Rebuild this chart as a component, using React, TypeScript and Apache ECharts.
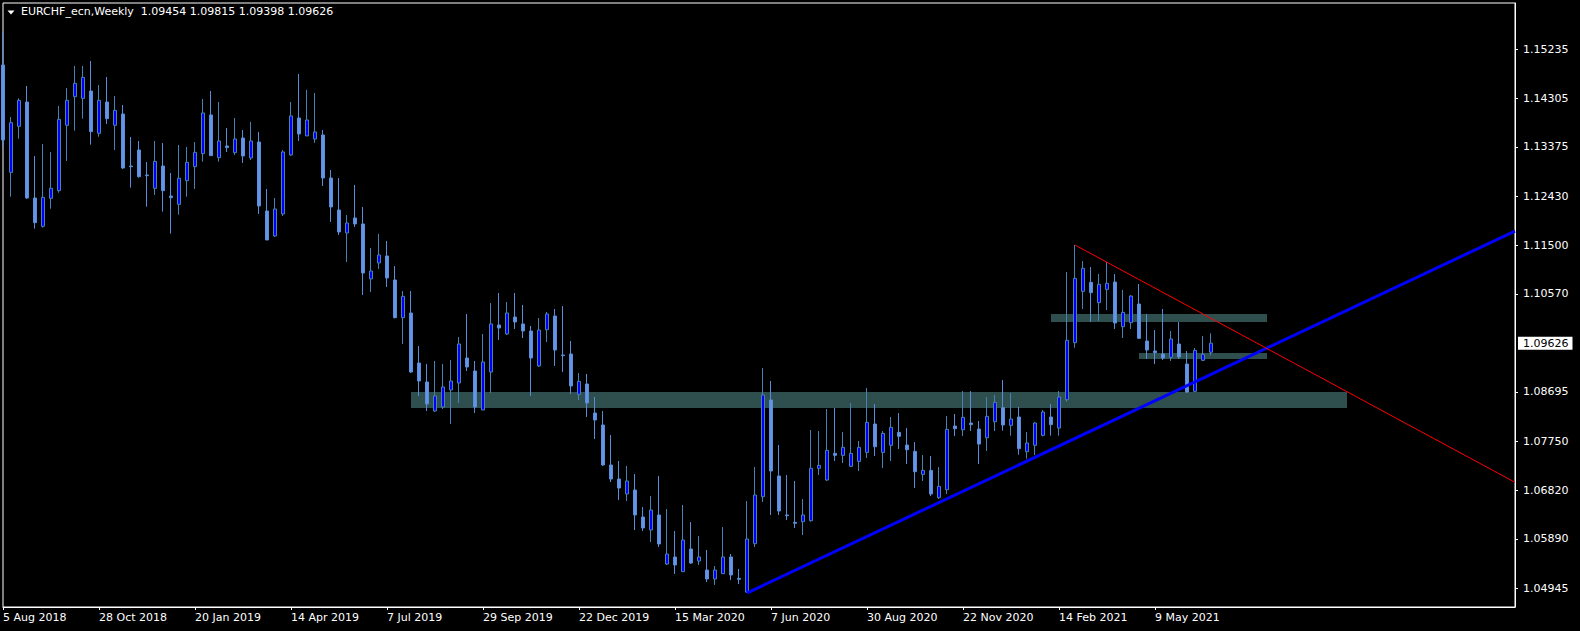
import React, { useEffect, useRef } from "react";
import * as echarts from "echarts";

// ---------- data ----------
const SYMBOL = "EURCHF_ecn,Weekly";
const FIRST_WEEK_UTC = Date.UTC(2018, 7, 5); // 5 Aug 2018 (first visible weekly bar)
const TOTAL_SLOTS = 190; // weekly slots across the chart, including the empty right shift
const LABEL_EVERY = 12;

const TIME_LABELS = [
  "5 Aug 2018", "28 Oct 2018", "20 Jan 2019", "14 Apr 2019", "7 Jul 2019",
  "29 Sep 2019", "22 Dec 2019", "15 Mar 2020", "7 Jun 2020", "30 Aug 2020",
  "22 Nov 2020", "14 Feb 2021", "9 May 2021",
];

const PRICE_TICKS = [
  1.04945, 1.0589, 1.0682, 1.0775, 1.08695, 1.1057, 1.115, 1.1243, 1.13375, 1.14305, 1.15235,
];
const PRICE_MIN = 1.04588;
const PRICE_MAX = 1.16123;
const LAST_PRICE = 1.09626;

const OPEN = [
  1.14939, 1.12889, 1.13768, 1.14232, 1.12399, 1.11858, 1.12393, 1.12539, 1.13787, 1.14334,
  1.14302, 1.14442, 1.13634, 1.14232, 1.13787, 1.14003, 1.1301, 1.13316, 1.12838, 1.12584,
  1.1301, 1.12437, 1.12278, 1.1273, 1.12997, 1.13246, 1.13985, 1.1317, 1.13393, 1.13265,
  1.13545, 1.13163, 1.13469, 1.12151, 1.11674, 1.12094, 1.13221, 1.13927, 1.13584, 1.13526,
  1.13603, 1.12781, 1.1217, 1.11731, 1.12018, 1.11903, 1.10853, 1.11158, 1.11292, 1.10833,
  1.10114, 1.10203, 1.09248, 1.08885, 1.08331, 1.08408, 1.08732, 1.08866, 1.09343, 1.09095,
  1.0835, 1.09076, 1.09974, 1.09802, 1.10126, 1.09993, 1.09859, 1.09191, 1.09884, 1.10145,
  1.09401, 1.0942, 1.08649, 1.08847, 1.08293, 1.08064, 1.073, 1.07032, 1.06746, 1.06822,
  1.06307, 1.06058, 1.06345, 1.05409, 1.05543, 1.05263, 1.05696, 1.05466, 1.05294, 1.05123,
  1.05224, 1.05543, 1.05135, 1.04874, 1.05797, 1.06695, 1.08541, 1.0709, 1.06345, 1.06205,
  1.06217, 1.06236, 1.07236, 1.07013, 1.07522, 1.07484, 1.07274, 1.07369, 1.07541, 1.08082,
  1.07541, 1.07675, 1.07923, 1.07681, 1.0756, 1.07121, 1.07197, 1.06675, 1.06828, 1.08044,
  1.07974, 1.08101, 1.07987, 1.07821, 1.08127, 1.08395, 1.08057, 1.08216, 1.07554, 1.07675,
  1.07866, 1.08216, 1.08006, 1.08547, 1.09636, 1.10616, 1.10788, 1.104, 1.10654, 1.10794,
  1.09941, 1.10018, 1.10374, 1.09668, 1.09477, 1.09419, 1.09356, 1.0961, 1.09228, 1.08706,
  1.09298, 1.09454,
];
const HIGH = [
  1.15569, 1.13946, 1.14302, 1.14538, 1.13201, 1.1343, 1.13278, 1.14156, 1.145, 1.1492,
  1.1492, 1.15015, 1.14557, 1.1471, 1.14347, 1.14175, 1.13564, 1.13488, 1.13087, 1.13488,
  1.13449, 1.12876, 1.13411, 1.13373, 1.13468, 1.1429, 1.14443, 1.14233, 1.13736, 1.13927,
  1.13698, 1.13851, 1.1366, 1.12571, 1.12399, 1.13316, 1.14233, 1.14768, 1.14462, 1.14405,
  1.13698, 1.12934, 1.12781, 1.12075, 1.12648, 1.12228, 1.11445, 1.11712, 1.11578, 1.111,
  1.10623, 1.10623, 1.09573, 1.09229, 1.09286, 1.09229, 1.09305, 1.09744, 1.10184, 1.09286,
  1.09802, 1.10394, 1.10585, 1.10413, 1.10585, 1.10356, 1.09955, 1.10107, 1.10222, 1.10279,
  1.10336, 1.09668, 1.09057, 1.09038, 1.08599, 1.08331, 1.07873, 1.07376, 1.07281, 1.07128,
  1.06498, 1.06708, 1.0709, 1.06459, 1.06039, 1.06536, 1.06211, 1.05944, 1.05676, 1.05371,
  1.06116, 1.056, 1.05314, 1.06612, 1.07262, 1.09152, 1.08904, 1.07682, 1.07109, 1.06994,
  1.0665, 1.07968, 1.07949, 1.08369, 1.08388, 1.07929, 1.08483, 1.07758, 1.0877, 1.08464,
  1.07949, 1.08216, 1.08292, 1.08006, 1.07738, 1.0749, 1.07471, 1.07261, 1.08235, 1.08273,
  1.08712, 1.08712, 1.0814, 1.08598, 1.08636, 1.08923, 1.08675, 1.08407, 1.0793, 1.08121,
  1.0835, 1.08465, 1.08713, 1.10985, 1.11501, 1.11195, 1.11081, 1.10947, 1.11176, 1.10947,
  1.10642, 1.10545, 1.10756, 1.10183, 1.09878, 1.10279, 1.09859, 1.1003, 1.09477, 1.09534,
  1.09763, 1.09815,
];
const LOW = [
  1.13379, 1.12424, 1.13532, 1.1238, 1.11813, 1.11832, 1.12195, 1.12501, 1.13106, 1.13685,
  1.13914, 1.13418, 1.1357, 1.13812, 1.13316, 1.12953, 1.12596, 1.12787, 1.12233, 1.12456,
  1.12138, 1.11718, 1.12081, 1.12424, 1.12571, 1.13093, 1.13202, 1.13093, 1.13278, 1.13221,
  1.13068, 1.13125, 1.12094, 1.11597, 1.11655, 1.12056, 1.13202, 1.13488, 1.13584, 1.1345,
  1.12629, 1.11941, 1.11693, 1.11177, 1.11846, 1.10547, 1.10604, 1.11044, 1.107, 1.101,
  1.09611, 1.09057, 1.08618, 1.08331, 1.08312, 1.08369, 1.08083, 1.08484, 1.09095, 1.08293,
  1.0835, 1.08675, 1.09687, 1.09783, 1.09897, 1.09725, 1.08618, 1.09172, 1.09649, 1.09191,
  1.09076, 1.08656, 1.08541, 1.08217, 1.07796, 1.07281, 1.06975, 1.06631, 1.06612, 1.06058,
  1.06039, 1.05829, 1.05734, 1.0539, 1.05218, 1.05256, 1.05409, 1.0539, 1.05065, 1.05008,
  1.05218, 1.05103, 1.05027, 1.04855, 1.05734, 1.06593, 1.06345, 1.06345, 1.06249, 1.06097,
  1.05963, 1.0622, 1.07108, 1.06994, 1.07376, 1.07337, 1.07261, 1.07185, 1.07433, 1.07471,
  1.07242, 1.07376, 1.07605, 1.07318, 1.0686, 1.06994, 1.06707, 1.0665, 1.06745, 1.07853,
  1.07853, 1.07949, 1.07318, 1.07567, 1.07949, 1.07955, 1.0786, 1.07497, 1.07421, 1.07491,
  1.07847, 1.0786, 1.0786, 1.08509, 1.0954, 1.10279, 1.1003, 1.1005, 1.1026, 1.09897,
  1.09725, 1.09897, 1.09706, 1.09324, 1.09228, 1.09305, 1.09286, 1.09324, 1.08675, 1.08694,
  1.09286, 1.09398,
];
const CLOSE = [
  1.13507, 1.13838, 1.14264, 1.12399, 1.11928, 1.12412, 1.12584, 1.13901, 1.14264, 1.14589,
  1.14703, 1.13666, 1.14264, 1.13914, 1.14073, 1.12972, 1.12997, 1.12806, 1.12825, 1.13099,
  1.12539, 1.12405, 1.12775, 1.1308, 1.13271, 1.14023, 1.13208, 1.13488, 1.13361, 1.13526,
  1.13202, 1.13488, 1.12247, 1.11597, 1.12189, 1.13278, 1.13966, 1.13622, 1.13889, 1.1366,
  1.12781, 1.12228, 1.1175, 1.11922, 1.11903, 1.10967, 1.11005, 1.11311, 1.10872, 1.10114,
  1.10521, 1.09076, 1.08904, 1.08465, 1.08618, 1.0879, 1.08904, 1.09611, 1.09172, 1.08408,
  1.09267, 1.09993, 1.09916, 1.10203, 1.10031, 1.09859, 1.09343, 1.09878, 1.10184, 1.09496,
  1.09388, 1.08809, 1.08898, 1.08484, 1.08159, 1.073, 1.07032, 1.0686, 1.06994, 1.06345,
  1.06097, 1.0644, 1.05791, 1.056, 1.0539, 1.05867, 1.05428, 1.05543, 1.05123, 1.05294,
  1.05543, 1.05199, 1.05116, 1.05886, 1.06727, 1.08637, 1.07185, 1.06421, 1.06332, 1.06186,
  1.06345, 1.07236, 1.07293, 1.07579, 1.07484, 1.07637, 1.07522, 1.07637, 1.08114, 1.07649,
  1.07904, 1.08019, 1.07847, 1.07592, 1.07172, 1.07197, 1.06745, 1.06892, 1.0798, 1.07993,
  1.0821, 1.0807, 1.077, 1.08229, 1.08496, 1.08064, 1.08178, 1.07612, 1.0772, 1.08102,
  1.08312, 1.0807, 1.08598, 1.0968, 1.10864, 1.11055, 1.10591, 1.1075, 1.10769, 1.10011,
  1.10215, 1.10527, 1.09719, 1.09496, 1.09445, 1.09343, 1.09706, 1.09362, 1.08694, 1.09489,
  1.09413, 1.09626,
];

// rectangles (zones): start bar, end bar, top price, bottom price
const ZONE_START = [51, 131, 142];
const ZONE_END = [168, 158, 158];
const ZONE_TOP = [1.08694, 1.10183, 1.09439];
const ZONE_BOTTOM = [1.08388, 1.10031, 1.09324];

// trendlines: [bar index, price]
const SUPPORT_LINE: [number, number][] = [[93, 1.04855], [189, 1.11767]];
const RESISTANCE_LINE: [number, number][] = [[134, 1.11501], [189, 1.06969]];

// ---------- helpers ----------
const MONTHS = ["Jan", "Feb", "Mar", "Apr", "May", "Jun", "Jul", "Aug", "Sep", "Oct", "Nov", "Dec"];
const CATEGORIES: string[] = [];
for (let k = 0; k < TOTAL_SLOTS; k++) {
  const d = new Date(FIRST_WEEK_UTC + k * 7 * 86400000);
  CATEGORIES.push(`${d.getUTCDate()} ${MONTHS[d.getUTCMonth()]} ${d.getUTCFullYear()}`);
}

const FONT = "DejaVu Sans";
const WHITE = "#FFFFFF";

export default function App() {
  const ref = useRef<HTMLDivElement>(null);

  useEffect(() => {
    if (!ref.current) return;
    const chart = echarts.init(ref.current, undefined, { renderer: "svg" });

    const candles = OPEN.map((o, i) => [o, CLOSE[i], LOW[i], HIGH[i]]);
    const last = OPEN.length - 1;
    const showTick = (index: number) => index % LABEL_EVERY === 0 && index <= last;

    const zones = ZONE_START.map((s, i) => [
      { xAxis: CATEGORIES[s], yAxis: ZONE_TOP[i] },
      { xAxis: CATEGORIES[ZONE_END[i]], yAxis: ZONE_BOTTOM[i] },
    ]);

    const labelValues = [...PRICE_TICKS, LAST_PRICE].sort((a, b) => a - b);

    const title = `${SYMBOL}  ${OPEN[last].toFixed(5)} ${HIGH[last].toFixed(5)} ${LOW[last].toFixed(5)} ${CLOSE[last].toFixed(5)}`;

    chart.setOption({
      animation: false,
      backgroundColor: "#000000",
      grid: {
        left: 3,
        right: 65,
        top: 3,
        bottom: 24,
        show: true,
        borderColor: WHITE,
        borderWidth: 1,
        backgroundColor: "transparent",
      },
      xAxis: {
        type: "category",
        data: CATEGORIES,
        boundaryGap: false,
        axisLine: { show: true, lineStyle: { color: WHITE, width: 1 } },
        axisTick: { show: true, interval: showTick, length: 3, lineStyle: { color: WHITE } },
        axisLabel: {
          interval: showTick,
          align: "left",
          margin: 5,
          color: WHITE,
          fontFamily: FONT,
          fontSize: 11,
          formatter: (_v: string, index: number) => TIME_LABELS[index / LABEL_EVERY] ?? "",
        },
        splitLine: { show: false },
      },
      yAxis: {
        type: "value",
        position: "right",
        min: PRICE_MIN,
        max: PRICE_MAX,
        axisLine: { show: true, lineStyle: { color: WHITE, width: 1 } },
        axisTick: { show: true, customValues: PRICE_TICKS, length: 3, lineStyle: { color: WHITE } },
        axisLabel: {
          customValues: labelValues,
          margin: 3,
          fontFamily: FONT,
          fontSize: 11,
          formatter: (v: number) =>
            Math.abs(v - LAST_PRICE) < 1e-9 ? `{cur|${v.toFixed(5)}}` : `{n|${v.toFixed(5)}}`,
          rich: {
            n: {
              color: WHITE,
              fontFamily: FONT,
              fontSize: 11,
              lineHeight: 12,
              padding: [1, 4, 1, 5],
            },
            cur: {
              color: "#000000",
              backgroundColor: WHITE,
              fontFamily: FONT,
              fontSize: 11,
              lineHeight: 12,
              padding: [1, 4, 1, 5],
            },
          },
        },
        splitLine: { show: false },
      },
      series: [
        {
          name: "zones",
          type: "line",
          data: [],
          z: 1,
          silent: true,
          markArea: {
            silent: true,
            itemStyle: { color: "#2F4F4F", borderWidth: 0 },
            data: zones,
          },
        },
        {
          name: "EURCHF",
          type: "candlestick",
          data: candles,
          z: 2,
          barWidth: 4,
          silent: true,
          itemStyle: {
            color: "#0000FF",
            color0: "#6495ED",
            borderColor: "#4682B4",
            borderColor0: "#5A8DD8",
            borderWidth: 1,
          },
        },
        {
          name: "support",
          type: "line",
          z: 4,
          silent: true,
          symbol: "none",
          lineStyle: { color: "#0000FF", width: 3 },
          data: SUPPORT_LINE.map(([k, p]) => [CATEGORIES[k], p]),
        },
        {
          name: "resistance",
          type: "line",
          z: 4,
          silent: true,
          symbol: "none",
          lineStyle: { color: "#FF0000", width: 1 },
          data: RESISTANCE_LINE.map(([k, p]) => [CATEGORIES[k], p]),
        },
      ],
      graphic: [
        {
          type: "polygon",
          shape: { points: [[7.5, 10.5], [14.5, 10.5], [11, 14.5]] },
          style: { fill: WHITE },
          silent: true,
        },
        {
          type: "text",
          x: 21,
          y: 6,
          silent: true,
          style: {
            text: title,
            fill: WHITE,
            font: `11px "${FONT}"`,
            verticalAlign: "top",
          },
        },
      ],
    });

    return () => chart.dispose();
  }, []);

  return (
    <div
      ref={ref}
      style={{ position: "fixed", left: 0, top: 0, width: 1580, height: 631, background: "#000" }}
    />
  );
}
